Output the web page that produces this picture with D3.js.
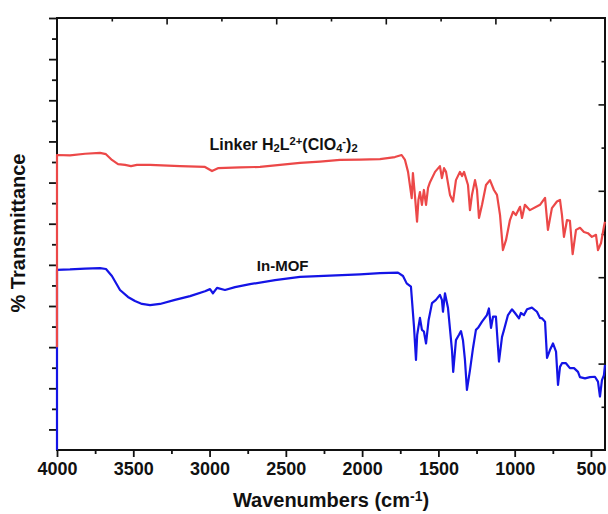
<!DOCTYPE html>
<html>
<head>
<meta charset="utf-8">
<script src="https://cdn.jsdelivr.net/npm/d3@7"></script>
<style>
  body { margin: 0; background: #fff; }
  text { font-family: "Liberation Sans", Arial, sans-serif; font-weight: bold; fill: #111; }
</style>
</head>
<body>
<div id="chart"></div>
<script>
// Data: [wavenumber (cm-1), % transmittance (offset, arbitrary)]
const linker = [
  [4000, 25.0], [4000, 71.7], [3915, 71.6], [3816, 72.0], [3718, 72.2], [3679, 71.9],
  [3640, 70.5], [3600, 69.5], [3554, 69.3], [3515, 69.0], [3476, 69.3], [3390, 69.3],
  [3194, 69.0], [3030, 68.8], [2984, 67.8], [2945, 68.5], [2800, 68.7], [2669, 68.8],
  [2538, 69.3], [2407, 69.8], [2276, 70.1], [2145, 70.5], [2014, 70.6], [1883, 70.7],
  [1785, 71.2], [1741, 71.7], [1719, 70.5], [1699, 67.6], [1675, 61.2], [1667, 67.3],
  [1654, 61.9], [1640, 55.5], [1631, 60.8], [1621, 62.7], [1608, 59.6], [1595, 63.2],
  [1581, 59.6], [1568, 63.7], [1555, 65.1], [1522, 67.6], [1490, 69.0], [1477, 66.1],
  [1463, 68.5], [1450, 67.6], [1424, 62.0], [1404, 60.4], [1385, 65.6], [1359, 67.6],
  [1345, 66.6], [1332, 67.6], [1306, 64.4], [1293, 58.3], [1280, 62.0], [1260, 65.6],
  [1247, 63.2], [1234, 56.4], [1214, 59.6], [1188, 64.4], [1162, 65.6], [1136, 63.2],
  [1116, 62.0], [1096, 57.1], [1077, 48.6], [1057, 51.0], [1031, 55.9], [1011, 57.9],
  [992, 57.1], [965, 59.1], [952, 56.4], [933, 59.6], [900, 58.3], [834, 59.6],
  [801, 61.3], [782, 53.5], [756, 58.8], [723, 60.4], [703, 60.8], [690, 57.1],
  [677, 51.8], [657, 55.9], [638, 55.7], [620, 47.6], [598, 53.5], [572, 54.0],
  [546, 53.0], [520, 52.7], [494, 51.8], [467, 52.3], [454, 48.6], [434, 50.3],
  [415, 54.3], [408, 55.5]
];

const inMof = [
  [4000, -5], [4000, 43.8], [3915, 43.9], [3816, 44.1], [3718, 44.2], [3679, 44.0],
  [3640, 42.3], [3587, 38.9], [3535, 37.2], [3489, 36.2], [3443, 35.5], [3390, 35.2],
  [3325, 35.5], [3227, 36.5], [3128, 37.4], [3030, 38.6], [2997, 39.1], [2978, 38.1],
  [2951, 39.4], [2899, 38.9], [2833, 39.6], [2735, 40.3], [2571, 41.3], [2407, 42.1],
  [2211, 42.4], [2014, 42.7], [1883, 43.0], [1765, 43.1], [1732, 42.3], [1708, 40.5],
  [1680, 39.7], [1660, 30.0], [1647, 21.9], [1639, 28.0], [1621, 32.1], [1608, 29.2],
  [1595, 28.8], [1581, 25.9], [1564, 31.6], [1542, 35.7], [1516, 36.5], [1490, 37.7],
  [1477, 36.5], [1470, 33.6], [1457, 38.1], [1437, 34.5], [1411, 24.3], [1403, 19.0],
  [1385, 26.7], [1365, 28.0], [1352, 28.9], [1339, 26.7], [1326, 21.9], [1313, 14.6],
  [1293, 19.4], [1273, 24.8], [1254, 29.2], [1240, 29.7], [1214, 31.2], [1182, 32.8],
  [1169, 34.4], [1155, 29.7], [1142, 32.4], [1123, 32.4], [1103, 21.5], [1083, 27.5],
  [1070, 29.2], [1044, 32.8], [1018, 34.2], [998, 33.3], [972, 32.0], [959, 33.3],
  [939, 32.8], [919, 34.2], [887, 34.6], [854, 33.6], [834, 32.1], [821, 32.0],
  [801, 31.2], [788, 22.4], [769, 24.3], [749, 25.9], [729, 23.9], [716, 15.8],
  [703, 20.2], [690, 21.1], [664, 21.1], [638, 19.9], [611, 19.9], [585, 19.0],
  [572, 17.7], [539, 17.4], [507, 17.7], [474, 17.8], [454, 16.6], [441, 13.0],
  [428, 17.0], [415, 18.2], [408, 20.7]
];

const xMajor = [4000, 3500, 3000, 2500, 2000, 1500, 1000, 500];
const xMinor = [3750, 3250, 2750, 2250, 1750, 1250, 750];
const yMajor = [5, 15, 25, 35, 45, 55, 65, 75, 85, 95, 105];
const yMinor = [10, 20, 30, 40, 50, 60, 70, 80, 90, 100];
const mirrorTicks = [1, 2, 3, 4, 5, 6, 7, 8, 9];

const labelLinker = [["Linker H", 0], ["2", -1], ["L", 0], ["2+", 1], ["(ClO", 0], ["4", -1], ["-", 1], [")", 0], ["2", -1]];
const labelMof = [["In-MOF", 0]];

const margin = {top: 18, right: 3, bottom: 64, left: 57},
    width = 608 - margin.left - margin.right,
    height = 514 - margin.top - margin.bottom;

const x = d3.scaleLinear().domain([4000, 408]).range([0, width]),
    y = d3.scaleLinear().domain([0, 105]).range([height, 0]),
    xTop = d3.scaleLinear().domain([0, 10]).range([0, width]),
    yRight = d3.scaleLinear().domain([0, 10]).range([height, 0]);

const svg = d3.select("#chart").append("svg")
    .attr("width", 608)
    .attr("height", 514)
  .append("g")
    .attr("transform", "translate(" + margin.left + "," + margin.top + ")");

svg.append("clipPath").attr("id", "clip")
  .append("rect").attr("x", -2).attr("y", -2).attr("width", width + 4).attr("height", height + 2);

const line = d3.line().x(d => x(d[0])).y(d => y(d[1]));

// axes
function styleAxis(g) {
  g.select(".domain").remove();
  g.selectAll("line").attr("stroke", "#111").attr("stroke-width", 1.8);
}

svg.append("g").attr("transform", "translate(0," + height + ")")
    .call(d3.axisBottom(x).tickValues(xMajor).tickSize(7).tickPadding(5).tickFormat(d3.format("d")))
    .call(styleAxis)
    .call(g => g.selectAll("text").attr("font-size", 18).attr("fill", "#111")
        .attr("font-family", "'Liberation Sans', Arial, sans-serif").attr("font-weight", "bold"));
svg.append("g").attr("transform", "translate(0," + height + ")")
    .call(d3.axisBottom(x).tickValues(xMinor).tickSize(4).tickFormat(""))
    .call(styleAxis);

svg.append("g")
    .call(d3.axisLeft(y).tickValues(yMajor).tickSize(8).tickFormat(""))
    .call(styleAxis);
svg.append("g")
    .call(d3.axisLeft(y).tickValues(yMinor).tickSize(5).tickFormat(""))
    .call(styleAxis);

svg.append("g")
    .call(d3.axisBottom(xTop).tickValues(mirrorTicks).tickSize(0).tickFormat(""))
    .call(g => g.select(".domain").remove())
    .call(g => g.selectAll(".tick line").attr("y2", d => d % 2 ? 3.5 : 6.5)
        .attr("stroke", "#111").attr("stroke-width", 1.6));
svg.append("g").attr("transform", "translate(" + width + ",0)")
    .call(d3.axisLeft(yRight).tickValues(mirrorTicks).tickSize(0).tickFormat(""))
    .call(g => g.select(".domain").remove())
    .call(g => g.selectAll(".tick line").attr("x2", d => d % 2 ? -3.5 : -6.5)
        .attr("stroke", "#111").attr("stroke-width", 1.6));

// frame
svg.append("rect")
    .attr("width", width).attr("height", height)
    .attr("fill", "none").attr("stroke", "#111").attr("stroke-width", 2);

// spectra over the frame: blue first, red drawn over it
svg.append("path").datum(inMof)
    .attr("clip-path", "url(#clip)")
    .attr("fill", "none").attr("stroke", "#1414e6").attr("stroke-width", 2.2)
    .attr("stroke-linejoin", "round")
    .attr("d", line);
svg.append("path").datum(linker)
    .attr("clip-path", "url(#clip)")
    .attr("fill", "none").attr("stroke", "#ec4848").attr("stroke-width", 2.2)
    .attr("stroke-linejoin", "round")
    .attr("d", line);

// series labels
function richText(sel, parts, size) {
  parts.forEach(([t, s]) => {
    sel.append("tspan")
        .attr("font-size", s === 0 ? size : size * 0.7)
        .attr("baseline-shift", s > 0 ? "45%" : s < 0 ? "-22%" : null)
        .text(t);
  });
}
svg.append("text")
    .attr("x", x(3000)).attr("y", y(72.9))
    .call(t => richText(t, labelLinker, 16));
svg.append("text")
    .attr("x", x(2690)).attr("y", y(43.5))
    .call(t => richText(t, labelMof, 15));

// axis titles
svg.append("text")
    .attr("x", width / 2).attr("y", height + 57)
    .attr("text-anchor", "middle").attr("font-size", 20)
    .call(t => richText(t, [["Wavenumbers (cm", 0], ["-1", 1], [")", 0]], 20));
svg.append("text")
    .attr("transform", "translate(" + (-margin.left + 25) + "," + (233 - margin.top) + ") rotate(-90)")
    .attr("text-anchor", "middle").attr("font-size", 20)
    .text("% Transmittance");
</script>
</body>
</html>
